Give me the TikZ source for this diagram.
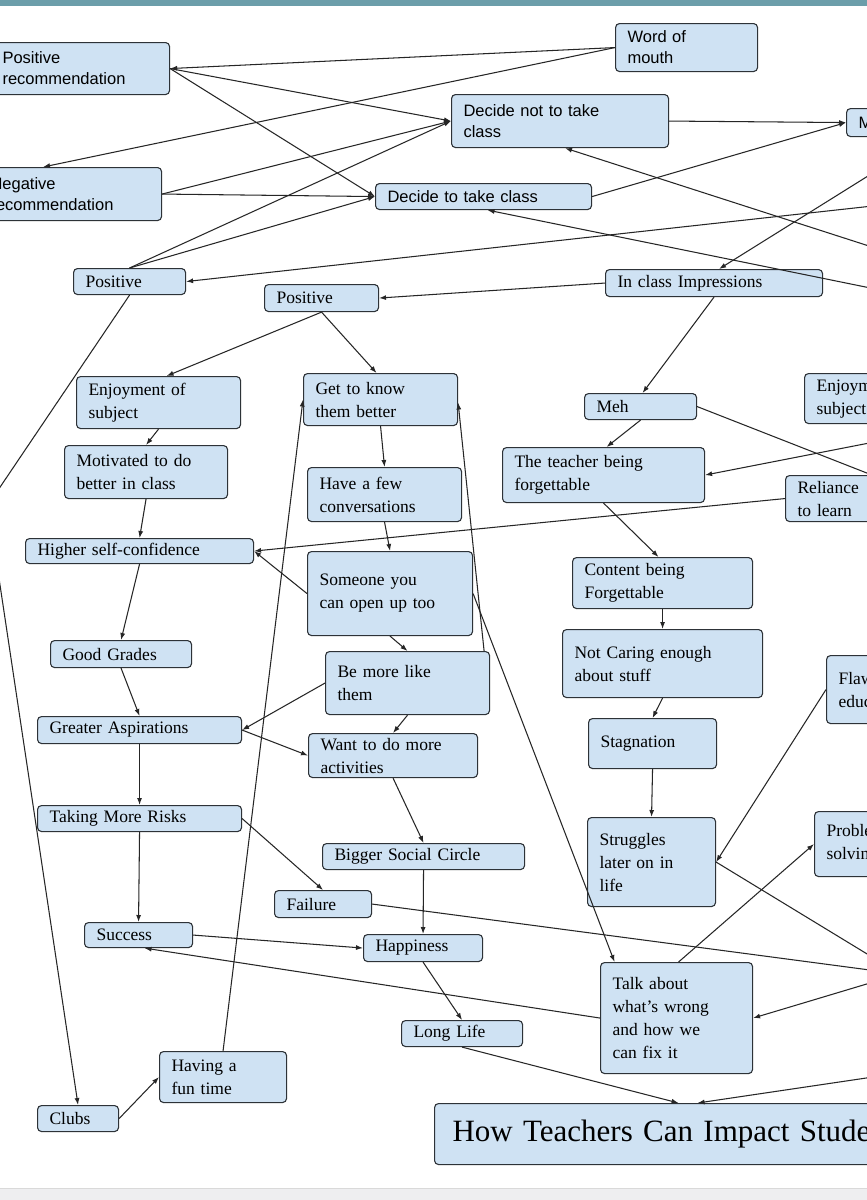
\documentclass[tikz,border=0pt]{standalone}
\usepackage{fontspec}
\setmainfont{Liberation Serif}
\newfontfamily\arial{Liberation Sans}
\usetikzlibrary{arrows.meta}
\definecolor{boxfill}{RGB}{207,226,243}
\definecolor{boxline}{RGB}{45,50,55}
\definecolor{topband}{RGB}{108,158,170}
\definecolor{botband}{RGB}{238,238,240}
\tikzset{
  boxbase/.style={draw=boxline,fill=boxfill,line width=1.1pt,rounded corners=4pt,inner xsep=12pt,inner ysep=2pt,align=left},
  sbox/.style={boxbase,font=\arial\fontsize{16.5}{21}\selectfont},
  rbox/.style={boxbase,font=\fontsize{17.5}{23}\selectfont},
  tbox/.style={boxbase,inner xsep=18pt,font=\fontsize{31}{36}\selectfont},
  arr/.style={draw=black!85,line width=1.05pt,-{Latex[length=7pt,width=5pt]}},
  ln/.style={draw=black!85,line width=1.05pt}
}
\newcommand\bx[7]{%
  \pgfmathsetmacro\bw{#5-#3}\pgfmathsetmacro\bh{#6-#4}\pgfmathsetmacro\tw{#5-#3-24}%
  \node[#2,anchor=north west,minimum width=\bw pt,minimum height=\bh pt,text width=\tw pt] (#1) at (#3,#4) {#7};}
\begin{document}
\begin{tikzpicture}[x=1pt,y=-1pt]
\useasboundingbox (0,0) rectangle (867,1200);
\clip (0,0) rectangle (867,1200);
\fill[white] (0,0) rectangle (867,1200);
\fill[topband] (0,0) rectangle (867,6);
\fill[botband] (0,1188) rectangle (867,1200);
\draw[black!15] (0,1188) -- (867,1188);
% top sans boxes
\bx{posrec}{sbox}{-10}{42}{169}{94}{Positive\\recommendation}
\bx{wom}{sbox}{615}{23}{757}{71}{Word of\\mouth}
\bx{dnot}{sbox}{451}{94}{668}{147}{Decide not to take\\class}
\bx{M}{sbox}{846}{108}{920}{136}{M}
\bx{negrec}{sbox}{-22}{167}{161}{220}{Negative\\recommendation}
\bx{dtake}{sbox}{375}{183}{591}{209}{Decide to take class}
% serif boxes
\bx{pos1}{rbox}{73}{268}{185}{294}{Positive}
\bx{pos2}{rbox}{264}{284}{378}{311}{Positive}
\bx{inclass}{rbox}{605}{269}{822}{296}{In class Impressions}
\bx{enjoy}{rbox}{76}{376}{240}{428}{Enjoyment of\\subject}
\bx{getknow}{rbox}{303}{373}{457}{425}{Get to know\\them better}
\bx{meh}{rbox}{584}{393}{696}{419}{Meh}
\bx{enjoy2}{rbox}{804}{373}{960}{423}{Enjoyment of\\subject}
\bx{motiv}{rbox}{64}{445}{227}{498}{Motivated to do\\better in class}
\bx{fewconv}{rbox}{307}{467}{461}{521}{Have a few\\conversations}
\bx{forget}{rbox}{502}{447}{704}{502}{The teacher being\\forgettable}
\bx{reliance}{rbox}{785}{475}{960}{521}{Reliance\\to learn}
\bx{selfconf}{rbox}{25}{538}{253}{563}{Higher self-confidence}
\bx{someone}{rbox}{307}{551}{472}{635}{Someone you\\can open up too}
\bx{content}{rbox}{572}{557}{752}{608}{Content being\\Forgettable}
\bx{goodgr}{rbox}{50}{640}{191}{667}{Good Grades}
\bx{bemore}{rbox}{325}{651}{489}{714}{Be more like\\them}
\bx{notcaring}{rbox}{562}{629}{762}{697}{Not Caring enough\\about stuff}
\bx{flaw}{rbox}{826}{655}{960}{723}{Flawed\\education}
\bx{greater}{rbox}{37}{716}{241}{743}{Greater Aspirations}
\bx{wantdo}{rbox}{308}{733}{477}{777}{Want to do more\\activities}
\bx{stagn}{rbox}{588}{718}{716}{768}{Stagnation}
\bx{risks}{rbox}{37}{805}{241}{831}{Taking More Risks}
\bx{bigger}{rbox}{322}{843}{524}{869}{Bigger Social Circle}
\bx{struggles}{rbox}{587}{817}{715}{906}{Struggles\\later on in\\life}
\bx{prob}{rbox}{814}{811}{960}{876}{Problem\\solving}
\bx{failure}{rbox}{274}{890}{371}{917}{Failure}
\bx{success}{rbox}{84}{922}{192}{947}{Success}
\bx{happiness}{rbox}{363}{934}{482}{961}{Happiness}
\bx{talk}{rbox}{600}{962}{752}{1073}{Talk about\\what's wrong\\and how we\\can fix it}
\bx{longlife}{rbox}{401}{1020}{522}{1046}{Long Life}
\bx{fun}{rbox}{159}{1051}{286}{1102}{Having a\\fun time}
\bx{clubs}{rbox}{37}{1105}{118}{1131}{Clubs}
\bx{title}{tbox}{434}{1103}{1010}{1164}{How Teachers Can Impact Students}
% off-page coordinates
\coordinate (r1) at (900,203);
\coordinate (r2) at (900,256);
\coordinate (r3) at (900,294);
\coordinate (r4) at (900,156);
\coordinate (r5) at (900,486);
\coordinate (r6) at (900,437);
\coordinate (hub) at (900,974);
\coordinate (r7) at (900,1073);
\coordinate (bend) at (-12,505);
% edges
\draw[arr] (wom.west) -- (posrec.east);
\draw[arr] (wom.west) -- ([xshift=-27pt]negrec.north);
\draw[arr] (posrec.east) -- (dnot.west);
\draw[arr] (posrec.east) -- (dtake.west);
\draw[arr] (negrec.east) -- (dnot.west);
\draw[arr] (negrec.east) -- (dtake.west);
\draw[arr] (pos1.north) -- (dnot.west);
\draw[arr] (pos1.north) -- (dtake.west);
\draw[arr] (dnot.east) -- (M.west);
\draw[arr] (dtake.east) -- (M.west);
\draw[arr] (r1) -- (pos1.east);
\draw[arr] (r2) -- ([xshift=5pt]dnot.south);
\draw[arr] (r3) -- ([xshift=4pt]dtake.south);
\draw[arr] (r4) -- ([xshift=5pt]inclass.north);
\draw[arr] (inclass.west) -- (pos2.east);
\draw[arr] (pos1.south) -- (bend) -- (clubs.north);
\draw[arr] (pos2.south) -- ([xshift=8pt]enjoy.north);
\draw[arr] (pos2.south) -- ([xshift=-4pt]getknow.north);
\draw[arr] (inclass.south) -- ([xshift=2pt]meh.north);
\draw[arr] (enjoy.south) -- (motiv.north);
\draw[arr] (motiv.south) -- (selfconf.north);
\draw[arr] (getknow.south) -- (fewconv.north);
\draw[arr] (fewconv.south) -- (someone.north);
\draw[arr] (meh.south) -- ([xshift=3pt]forget.north);
\draw[ln] (meh.east) -- (r5);
\draw[arr] (r6) -- (forget.east);
\draw[arr] (reliance.west) -- (selfconf.east);
\draw[arr] (someone.west) -- (selfconf.east);
\draw[arr] (forget.south) -- ([xshift=-4pt]content.north);
\draw[arr] (content.south) -- (notcaring.north);
\draw[arr] (selfconf.south) -- (goodgr.north);
\draw[arr] (fun.north) -- (getknow.west);
\draw[arr] (someone.east) -- ([xshift=-62pt]talk.north);
\draw[arr] ([xshift=-6pt]bemore.north east) -- ([yshift=-3pt]getknow.east);
\draw[arr] (someone.south) -- (bemore.north);
\draw[arr] (goodgr.south) -- (greater.north);
\draw[arr] (bemore.west) -- (greater.east);
\draw[arr] (bemore.south) -- (wantdo.north);
\draw[arr] (greater.east) -- (wantdo.west);
\draw[arr] (greater.south) -- (risks.north);
\draw[arr] (notcaring.south) -- (stagn.north);
\draw[arr] (stagn.south) -- (struggles.north);
\draw[arr] (flaw.west) -- (struggles.east);
\draw[arr] (wantdo.south) -- (bigger.north);
\draw[arr] (risks.east) -- (failure.north);
\draw[arr] (risks.south) -- (success.north);
\draw[arr] (bigger.south) -- (happiness.north);
\draw[ln] (struggles.east) -- (hub);
\draw[arr] ([xshift=2pt]talk.north) -- (prob.west);
\draw[ln] (failure.east) -- (hub);
\draw[arr] (success.east) -- (happiness.west);
\draw[arr] (talk.west) -- ([xshift=6pt]success.south);
\draw[arr] (happiness.south) -- (longlife.north);
\draw[arr] (hub) -- (talk.east);
\draw[arr] (longlife.south) -- ([xshift=-50pt]title.north);
\draw[arr] (r7) -- ([xshift=-31pt]title.north);
\draw[arr] (clubs.east) -- (fun.west);
\end{tikzpicture}
\end{document}
